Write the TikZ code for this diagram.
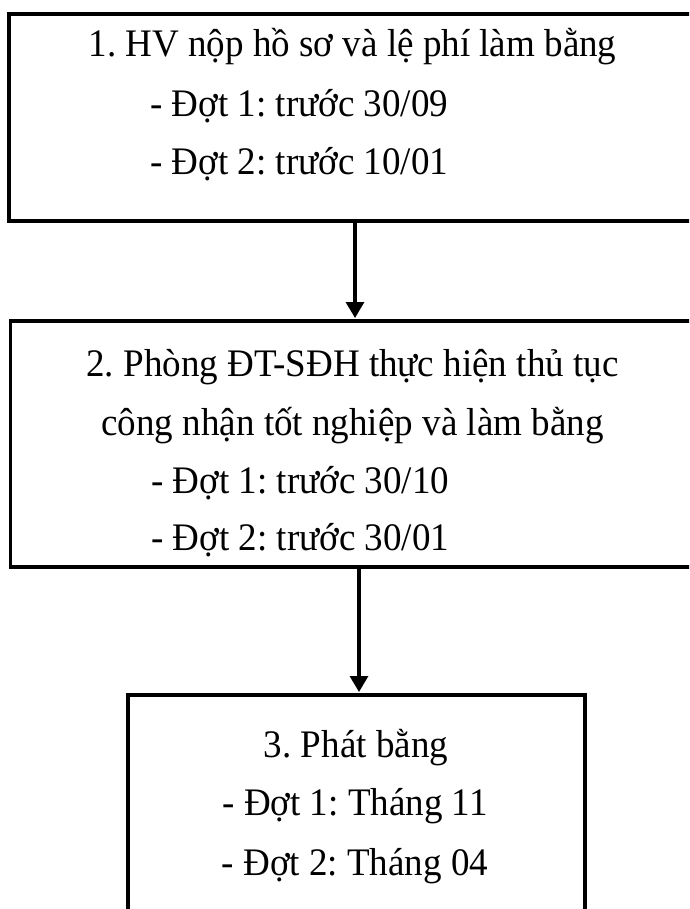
\documentclass[tikz,border=0pt]{standalone}
\usepackage{fontspec}
\setmainfont{Liberation Serif}[FakeStretch=0.95]
\usetikzlibrary{arrows.meta}
\frenchspacing
\begin{document}
\begin{tikzpicture}[x=1pt,y=-1pt,
  boxst/.style={draw=black,line width=3.3pt,outer sep=0pt,inner sep=0pt,rectangle,anchor=north west},
  txt/.style={inner sep=0pt,font=\fontsize{39}{45}\selectfont},
  arr/.style={line width=3.2pt,-{Triangle[length=16pt,width=18pt]}}]
\useasboundingbox (0,0) rectangle (689,909);
\clip (0,0) rectangle (689,909);
% boxes
\node[boxst,minimum width=691pt,minimum height=207pt] (box1) at (9,14) {};
\node[boxst,minimum width=690pt,minimum height=246pt] (box2) at (10.5,321) {};
\node[boxst,minimum width=457pt,minimum height=240pt] (box3) at (128,695) {};
% texts
\node[txt,anchor=base] (t11) at (352.5,57) {1. HV nộp hồ sơ và lệ phí làm bằng};
\node[txt,anchor=base west] (t12) at (150,117) {- Đợt 1: trước 30/09};
\node[txt,anchor=base west] (t13) at (150,175) {- Đợt 2: trước 10/01};
\node[txt,anchor=base] (t21) at (352.5,376) {2. Phòng ĐT-SĐH thực hiện thủ tục};
\node[txt,anchor=base] (t22) at (352.5,435) {công nhận tốt nghiệp và làm bằng};
\node[txt,anchor=base west] (t23) at (151,493) {- Đợt 1: trước 30/10};
\node[txt,anchor=base west] (t24) at (151,550) {- Đợt 2: trước 30/01};
\node[txt,anchor=base] (t31) at (356,757) {3. Phát bằng};
\node[txt,anchor=base] (t32) at (355,815) {- Đợt 1: Tháng 11};
\node[txt,anchor=base] (t33) at (355,875) {- Đợt 2: Tháng 04};
% connectors
\coordinate (a1) at (355,0);
\coordinate (a2) at (359,0);
\draw[arr] (box1.south -| a1) -- ([yshift=3pt]box2.north -| a1);
\draw[arr] (box2.south -| a2) -- ([yshift=3pt]box3.north -| a2);
\end{tikzpicture}
\end{document}
